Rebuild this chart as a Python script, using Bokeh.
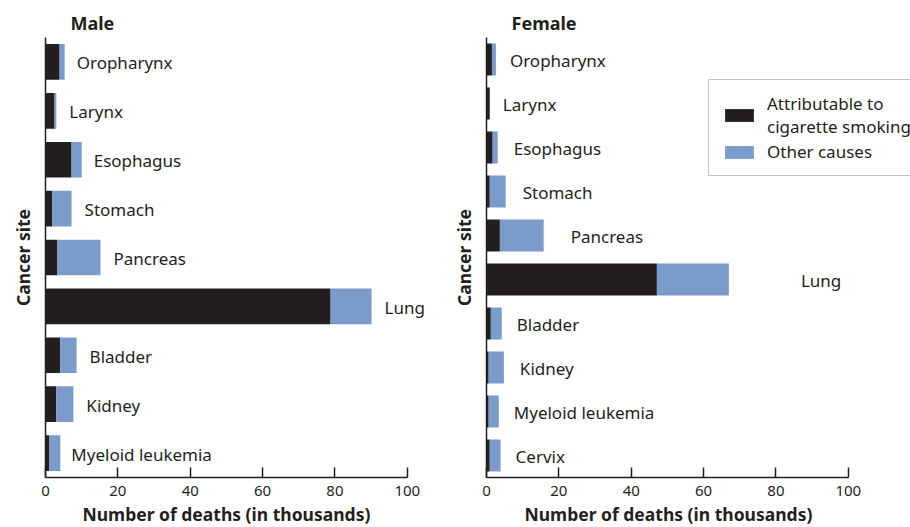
from bokeh.plotting import figure
from bokeh.models import ColumnDataSource, Range1d, FixedTicker, Legend, Title
from bokeh.layouts import row
from bokeh.core.properties import value
from bokeh.embed import file_html
from bokeh.resources import INLINE

# ---- data (thousands of deaths) ----
male_sites = ["Oropharynx", "Larynx", "Esophagus", "Stomach", "Pancreas",
              "Lung", "Bladder", "Kidney", "Myeloid leukemia"]
male_smoking = [3.9, 2.5, 7.2, 1.9, 3.3, 78.8, 4.1, 3.0, 1.1]
male_other = [1.4, 0.5, 2.8, 5.3, 11.9, 11.3, 4.5, 4.7, 3.0]

female_sites = ["Oropharynx", "Larynx", "Esophagus", "Stomach", "Pancreas",
                "Lung", "Bladder", "Kidney", "Myeloid leukemia", "Cervix"]
female_smoking = [1.5, 0.9, 1.7, 0.9, 3.7, 47.1, 1.2, 0.6, 0.6, 0.9]
female_other = [1.1, 0.0, 1.4, 4.4, 12.1, 19.9, 3.0, 4.2, 2.8, 3.0]

x_ticks = [0, 20, 40, 60, 80, 100]
x_title = "Number of deaths (in thousands)"
y_title = "Cancer site"
series_names = ["Attributable to\ncigarette smoking", "Other causes"]

# ---- style ----
FONT = "Noto Sans"
INK = "#231f20"
BLUE = "#7b9bcb"
male_label_offsets = [12, 13, 12, 13, 13, 13, 13, 13, 11]
female_label_offsets = [14, 13, 16, 17, 27, 72, 15, 16, 15, 15]


def make_panel(title, sites, smoking, other, offsets, width, x_end,
               border_left, border_right, xtitle_offset, legend):
    n = len(sites)
    total = [a + b for a, b in zip(smoking, other)]
    ypos = [n - i - 0.5 for i in range(n)]  # first category at top
    src = ColumnDataSource(dict(site=sites, y=ypos, smoking=smoking, other=other,
                                total=total, off=offsets))
    p = figure(width=width, height=527, output_backend="svg",
               toolbar_location=None,
               y_range=Range1d(0, n), x_range=Range1d(0, x_end),
               min_border_left=border_left, min_border_right=border_right,
               min_border_top=37, min_border_bottom=50)
    rs = p.hbar_stack(["smoking", "other"], y="y", height=0.73,
                      color=[INK, BLUE], line_color=None, source=src)
    p.text(x="total", y="y", text="site", x_offset="off", y_offset=1,
           text_baseline="middle", text_align="left",
           text_font=value(FONT), text_font_size="17px", text_color=INK,
           source=src)

    p.title.text = title
    p.title.text_font = FONT
    p.title.text_font_size = "18px"
    p.title.text_font_style = "bold"
    p.title.text_color = INK
    p.title.align = "left"
    p.title.offset = 25
    p.title.standoff = 6

    p.grid.visible = False
    p.outline_line_color = None

    xa = p.xaxis[0]
    xa.ticker = FixedTicker(ticks=x_ticks)
    xa.bounds = (0, 100)
    xa.axis_line_width = 1.5
    xa.axis_line_color = INK
    xa.major_tick_in = 10
    xa.major_tick_out = 0
    xa.major_tick_line_width = 1.5
    xa.major_tick_line_color = INK
    xa.minor_tick_line_color = None
    xa.major_label_text_font = FONT
    xa.major_label_text_font_size = "15px"
    xa.major_label_text_color = INK
    xa.major_label_standoff = 8

    # x-axis title, aligned under the 0-100 axis span
    xt = Title(text=x_title, align="left", offset=xtitle_offset,
               text_font=FONT, text_font_size="17.5px", text_font_style="bold",
               text_color=INK, standoff=2)
    p.add_layout(xt, "below")

    ya = p.yaxis[0]
    ya.ticker = FixedTicker(ticks=[])
    ya.axis_line_width = 1.5
    ya.axis_line_color = INK
    ya.major_tick_line_color = None
    ya.minor_tick_line_color = None
    ya.major_tick_out = 0
    ya.major_tick_in = 0
    ya.major_label_standoff = 0
    ya.axis_label = y_title
    ya.axis_label_text_font = FONT
    ya.axis_label_text_font_size = "17.5px"
    ya.axis_label_text_font_style = "bold"
    ya.axis_label_text_color = INK
    ya.axis_label_standoff = 11

    if legend:
        lg = Legend(items=[(series_names[0], [rs[0]]), (series_names[1], [rs[1]])],
                    location=(222, 301))
        lg.padding = 12
        lg.margin = 0
        lg.spacing = 2
        lg.label_standoff = 10
        lg.glyph_width = 36
        lg.glyph_height = 16
        lg.label_text_font = FONT
        lg.label_text_font_size = "17px"
        lg.label_text_color = INK
        lg.border_line_color = "#8a8a8a"
        lg.border_line_width = 1.5
        lg.background_fill_alpha = 1
        p.add_layout(lg, "center")
    return p


p1 = make_panel("Male", male_sites, male_smoking, male_other, male_label_offsets,
                448, 110, 45, 5, 37, False)
p2 = make_panel("Female", female_sites, female_smoking, female_other,
                female_label_offsets, 462, 117.2, 38, 0, 38, True)

layout = row(p1, p2)
open("out.html", "w").write(file_html(layout, INLINE))
